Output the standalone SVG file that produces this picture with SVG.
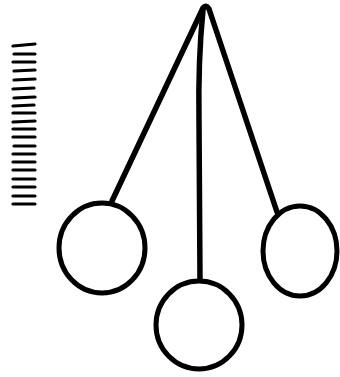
<svg xmlns="http://www.w3.org/2000/svg" width="340" height="377" viewBox="0 0 340 377">
<style>
.s{fill:none;stroke:#000;stroke-width:5.5;stroke-linecap:round;stroke-linejoin:round}
.c{fill:none;stroke:#000;stroke-width:5}
.h{stroke:#000;stroke-width:3.2;stroke-linecap:round}
</style>
<rect width="340" height="377" fill="#fff"/>
<g id="scale">
<line class="h" x1="13" y1="46" x2="35" y2="44"/>
<line class="h" x1="14" y1="54" x2="35" y2="54"/>
<line class="h" x1="13" y1="62" x2="35" y2="62"/>
<line class="h" x1="14" y1="71" x2="35" y2="70"/>
<line class="h" x1="14" y1="80" x2="35" y2="79"/>
<line class="h" x1="13" y1="89" x2="34" y2="88"/>
<line class="h" x1="14" y1="98" x2="35" y2="97"/>
<line class="h" x1="13" y1="106" x2="34" y2="105"/>
<line class="h" x1="13" y1="113" x2="35" y2="113"/>
<line class="h" x1="13" y1="122" x2="35" y2="121"/>
<line class="h" x1="13" y1="129" x2="35" y2="129"/>
<line class="h" x1="13" y1="137" x2="35" y2="137"/>
<line class="h" x1="14" y1="146" x2="35" y2="146"/>
<line class="h" x1="13" y1="154" x2="35" y2="154"/>
<line class="h" x1="13" y1="162" x2="35" y2="162"/>
<line class="h" x1="13" y1="170" x2="35" y2="170"/>
<line class="h" x1="13" y1="179" x2="35" y2="179"/>
<line class="h" x1="13" y1="187" x2="35" y2="187"/>
<line class="h" x1="13" y1="196" x2="35" y2="196"/>
<line class="h" x1="13" y1="204" x2="35" y2="204"/>
</g>
<g id="strings">
<path class="s" d="M112 201 L203 8 Q206 4 209 9 L277 212"/>
<path class="s" d="M203 10 Q198 60 199 120 L200 280"/>
</g>
<g id="bob-left"><ellipse class="c" cx="102" cy="248" rx="43" ry="45"/></g>
<g id="bob-middle"><ellipse class="c" cx="199" cy="325" rx="43" ry="44"/></g>
<g id="bob-right"><ellipse class="c" cx="300" cy="251" rx="37" ry="45"/></g>
</svg>
